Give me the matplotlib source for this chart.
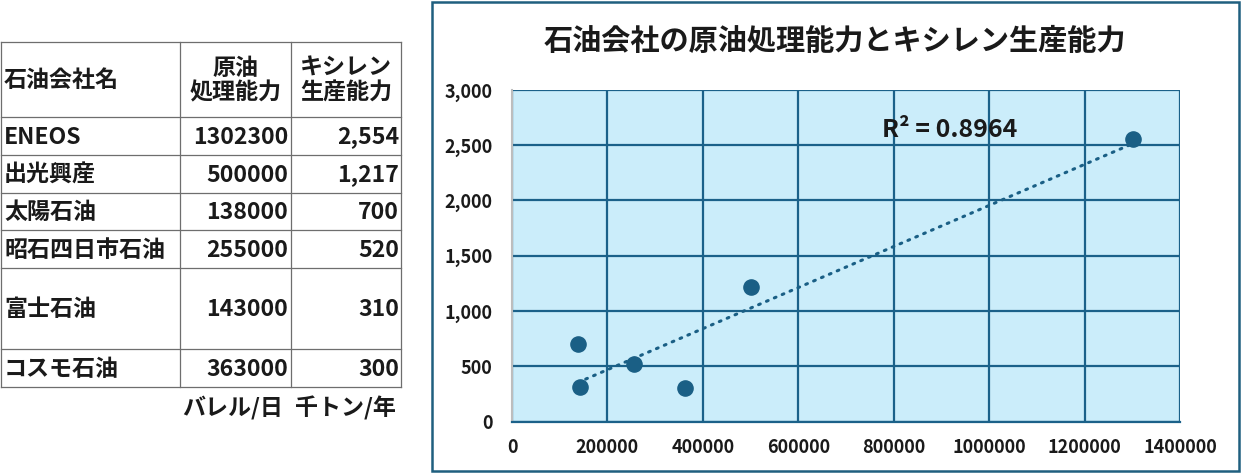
import numpy as np
import matplotlib
matplotlib.use("Agg")
import matplotlib.pyplot as plt
from matplotlib.ticker import FuncFormatter, MultipleLocator
from matplotlib.patches import Rectangle

plt.rcParams['font.family'] = ['Noto Sans CJK JP', 'DejaVu Sans']

# データ
companies = ['ENEOS', '出光興産', '太陽石油', '昭石四日市石油', '富士石油', 'コスモ石油']
crude = [1302300, 500000, 138000, 255000, 143000, 363000]   # バレル/日
xylene = [2554, 1217, 700, 520, 310, 300]                   # 千トン/年
header = ['石油会社名', '原油\n処理能力', 'キシレン\n生産能力']
units = ['バレル/日', '千トン/年']
title = '石油会社の原油処理能力とキシレン生産能力'

col_main = '#1A5F85'
grid_col = '#1B6189'

fig = plt.figure(figsize=(12.41, 4.73), dpi=100)

# 表と枠用のピクセル座標の軸
bg = fig.add_axes([0, 0, 1, 1])
bg.set_xlim(0, 1241)
bg.set_ylim(473, 0)
bg.axis('off')

col_x = [1, 180, 291, 401]
row_y = [42, 117, 155, 193, 230, 268, 349, 387]
line_kw = dict(color='#6E6E6E', lw=0.9)
for y in row_y:
    bg.plot([col_x[0], col_x[-1]], [y, y], **line_kw)
for x in col_x:
    bg.plot([x, x], [row_y[0], row_y[-1]], **line_kw)

tkw = dict(fontsize=16.6, fontweight='bold', color='#1a1a1a', va='center')
hy = (row_y[0] + row_y[1]) / 2 + 1
bg.text(4, hy, header[0], ha='left', **tkw)
bg.text((col_x[1] + col_x[2]) / 2, hy, header[1], ha='center', linespacing=1.1, **tkw)
bg.text((col_x[2] + col_x[3]) / 2, hy, header[2], ha='center', linespacing=1.1, **tkw)
for i, name in enumerate(companies):
    cy = (row_y[i + 1] + row_y[i + 2]) / 2 + 1
    bg.text(4, cy, name, ha='left', **tkw)
    bg.text(col_x[2] - 3, cy, str(crude[i]), ha='right', **tkw)
    bg.text(col_x[3] - 2, cy, f"{xylene[i]:,}", ha='right', **tkw)
bg.text(col_x[2] - 8, 408, units[0], ha='right', **tkw)
bg.text(col_x[3] - 5, 408, units[1], ha='right', **tkw)

# グラフの枠
bg.add_patch(Rectangle((432, 2), 807, 469, fill=False, ec='#1F5F7F', lw=1.8))
bg.text(835, 41, title, ha='center', va='center', fontsize=21,
        fontweight='bold', color='#1a1a1a')

# 散布図
ax = fig.add_axes([512 / 1241, (473 - 421.5) / 473, (1180 - 512) / 1241, (421.5 - 90) / 473])
ax.set_facecolor('#CBEDFA')
ax.set_xlim(0, 1400000)
ax.set_ylim(0, 3000)
ax.xaxis.set_major_locator(MultipleLocator(200000))
ax.yaxis.set_major_locator(MultipleLocator(500))
ax.xaxis.set_major_formatter(FuncFormatter(lambda v, p: f"{int(v)}"))
ax.yaxis.set_major_formatter(FuncFormatter(lambda v, p: f"{int(v):,}"))
ax.grid(True, color=grid_col, lw=1.6)
ax.set_axisbelow(True)
for s in ['top', 'right']:
    ax.spines[s].set_visible(False)
ax.spines['left'].set_color('#BDBDBD')
ax.spines['left'].set_linewidth(1.5)
ax.spines['bottom'].set_color(grid_col)
ax.spines['bottom'].set_linewidth(1.6)
ax.tick_params(length=0, labelsize=13, labelcolor='#1a1a1a')
ax.tick_params(axis='y', pad=14)
ax.tick_params(axis='x', pad=12)
for lab in ax.get_xticklabels() + ax.get_yticklabels():
    lab.set_fontweight('bold')

x = np.array(crude, dtype=float)
y = np.array(xylene, dtype=float)
ax.scatter(x, y, s=120, color=col_main, zorder=4, clip_on=False)

# 近似直線
k, b = np.polyfit(x, y, 1)
xs = np.array([x.min(), x.max()])
ax.plot(xs, k * xs + b, color=col_main, lw=2.2, linestyle=(0, (0.6, 2.2)),
        dash_capstyle='round', zorder=3)
r2 = np.corrcoef(x, y)[0, 1] ** 2
ax.text(775000, 2640, f"R² = {r2:.4f}", fontsize=18, fontweight='bold',
        color='#1a1a1a', ha='left', va='center')

fig.savefig('out.png', dpi=100)
